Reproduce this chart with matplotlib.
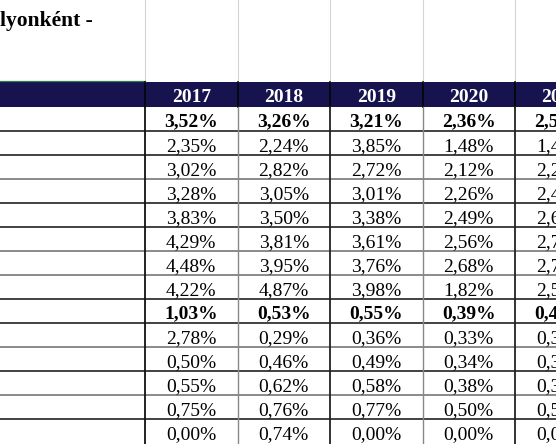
import matplotlib.pyplot as plt
from matplotlib.patches import Rectangle

plt.rcParams['font.family'] = ['Liberation Serif', 'DejaVu Serif']

title = "lyonként -"
years = ["2017", "2018", "2019", "2020", "2021"]

v2017 = [3.52, 2.35, 3.02, 3.28, 3.83, 4.29, 4.48, 4.22, 1.03, 2.78, 0.50, 0.55, 0.75, 0.00]
v2018 = [3.26, 2.24, 2.82, 3.05, 3.50, 3.81, 3.95, 4.87, 0.53, 0.29, 0.46, 0.62, 0.76, 0.74]
v2019 = [3.21, 3.85, 2.72, 3.01, 3.38, 3.61, 3.76, 3.98, 0.55, 0.36, 0.49, 0.58, 0.77, 0.00]
v2020 = [2.36, 1.48, 2.12, 2.26, 2.49, 2.56, 2.68, 1.82, 0.39, 0.33, 0.34, 0.38, 0.50, 0.00]
v2021 = [2.55, 1.45, 2.25, 2.45, 2.65, 2.75, 2.75, 2.55, 0.45, 0.35, 0.35, 0.35, 0.55, 0.00]
columns = [v2017, v2018, v2019, v2020, v2021]
bold_rows = [0, 8]

# layout in pixels
W, H = 556, 444
col_x = [145, 237.5, 330, 422.5, 515, 607.5]
head_top, head_bot = 82, 107
row_h = 24
navy = "#17134f"
line_col = ["#222222", "#222222", "#777777", "#222222", "#222222", "#777777", "#777777",
            "#222222", "#222222", "#777777", "#222222", "#777777", "#222222"]
vline_col = ["#111111", "#888888", "#222222", "#888888", "#222222"]

fig = plt.figure(figsize=(W / 100, H / 100), dpi=100)
ax = fig.add_axes([0, 0, 1, 1])
ax.set_xlim(0, W)
ax.set_ylim(H, 0)
ax.axis("off")

# title (cut off on the left like the sheet)
ax.text(0, 26, title, fontsize=15.5, fontweight="bold", ha="left", va="baseline")

# light sheet gridlines above header
for x in col_x[:-1]:
    ax.plot([x, x], [0, head_top], color="#d4d4d4", lw=0.8)
ax.plot([0, col_x[0]], [head_top - 1, head_top - 1], color="#2e7d4f", lw=0.9)

# header band
ax.add_patch(Rectangle((0, head_top), W, head_bot - head_top, color=navy, lw=0))
for i, yr in enumerate(years):
    cx = (col_x[i] + col_x[i + 1]) / 2
    ax.text(cx, head_top + 19.7, yr, color="white", fontsize=14, fontweight="bold",
            ha="center", va="baseline", clip_on=True)
for x in col_x[:-1]:
    ax.plot([x, x], [head_top, head_bot], color="#050505", lw=1.2)

# data cells
n = len(v2017)
for r in range(n):
    top = head_bot + r * row_h
    for i, col in enumerate(columns):
        cx = (col_x[i] + col_x[i + 1]) / 2
        s = f"{col[r]:.2f}".replace(".", ",") + "%"
        ax.text(cx, top + 19.7, s, fontsize=14,
                fontweight="bold" if r in bold_rows else "normal",
                ha="center", va="baseline", clip_on=True)

for k in range(1, n):
    y = head_bot + k * row_h
    ax.plot([0, W], [y, y], color=line_col[k - 1], lw=1.2)

bottom = head_bot + n * row_h + 2
for x, c in zip(col_x[:-1], vline_col):
    ax.plot([x, x], [head_bot, bottom], color=c, lw=1.3 if c != "#888888" else 1.0)

fig.savefig("out.png", dpi=100)
